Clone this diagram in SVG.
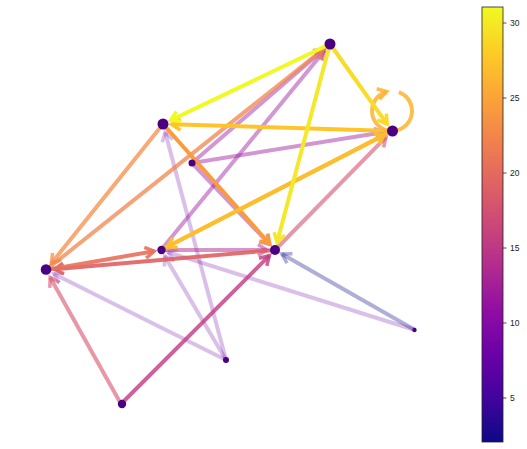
<svg xmlns="http://www.w3.org/2000/svg" width="527" height="449" viewBox="0 0 527 449">
<style>
.e{fill:none;stroke-width:4;stroke-linecap:butt}
.h{fill:none;stroke-width:3.5;stroke-linejoin:miter}
.n{fill:#4b0082}
.y1{stroke:#f0f921}
.y2{stroke:#f8dc25}
.y3{stroke:#f4e82a}
.lp{stroke:#fdb32f;stroke-opacity:0.85}
.bc{stroke:#fec52a}
.be{stroke:#fdbd2c;stroke-opacity:0.95}
.cf{stroke:#fa9b3c}
.cg{stroke:#f58c46;stroke-opacity:0.75}
.ga{stroke:#f2844b;stroke-opacity:0.75}
.ge{stroke:#e8705a;stroke-opacity:0.9}
.fg{stroke:#de6164;stroke-opacity:0.9}
.pk{stroke:#d5546e;stroke-opacity:0.6}
.hf{stroke:#c13b82;stroke-opacity:0.8}
.ef{stroke:#b12a90;stroke-opacity:0.5}
.pu{stroke:#9c179e;stroke-opacity:0.45}
.lv{stroke:#6a00a8;stroke-opacity:0.25}
.bl{stroke:#0d0887;stroke-opacity:0.33}
.tk{font-family:"Liberation Sans",Arial,sans-serif;font-size:8.5px;fill:#222}
</style>
<defs>
<linearGradient id="plasma" x1="0" y1="1" x2="0" y2="0">
<stop offset="0" stop-color="#0d0887"/>
<stop offset="0.1" stop-color="#41049d"/>
<stop offset="0.2" stop-color="#6a00a8"/>
<stop offset="0.3" stop-color="#8f0da4"/>
<stop offset="0.4" stop-color="#b12a90"/>
<stop offset="0.5" stop-color="#cc4778"/>
<stop offset="0.6" stop-color="#e16462"/>
<stop offset="0.7" stop-color="#f2844b"/>
<stop offset="0.8" stop-color="#fca636"/>
<stop offset="0.9" stop-color="#fcce25"/>
<stop offset="1" stop-color="#f0f921"/>
</linearGradient>
<marker id="my1" markerUnits="userSpaceOnUse" markerWidth="20" markerHeight="20" orient="auto" overflow="visible"><path class="h y1" d="M-9,-5.5L0,0L-9,5.5"/></marker>
<marker id="my2" markerUnits="userSpaceOnUse" markerWidth="20" markerHeight="20" orient="auto" overflow="visible"><path class="h y2" d="M-9,-5.5L0,0L-9,5.5"/></marker>
<marker id="my3" markerUnits="userSpaceOnUse" markerWidth="20" markerHeight="20" orient="auto" overflow="visible"><path class="h y3" d="M-9,-5.5L0,0L-9,5.5"/></marker>
<marker id="mlp" markerUnits="userSpaceOnUse" markerWidth="20" markerHeight="20" orient="auto" overflow="visible"><path class="h lp" d="M-9,-5.5L0,0L-9,5.5"/></marker>
<marker id="mbc" markerUnits="userSpaceOnUse" markerWidth="20" markerHeight="20" orient="auto" overflow="visible"><path class="h bc" d="M-9,-5.5L0,0L-9,5.5"/></marker>
<marker id="mbe" markerUnits="userSpaceOnUse" markerWidth="20" markerHeight="20" orient="auto" overflow="visible"><path class="h be" d="M-9,-5.5L0,0L-9,5.5"/></marker>
<marker id="mcf" markerUnits="userSpaceOnUse" markerWidth="20" markerHeight="20" orient="auto" overflow="visible"><path class="h cf" d="M-9,-5.5L0,0L-9,5.5"/></marker>
<marker id="mcg" markerUnits="userSpaceOnUse" markerWidth="20" markerHeight="20" orient="auto" overflow="visible"><path class="h cg" d="M-9,-5.5L0,0L-9,5.5"/></marker>
<marker id="mga" markerUnits="userSpaceOnUse" markerWidth="20" markerHeight="20" orient="auto" overflow="visible"><path class="h ga" d="M-9,-5.5L0,0L-9,5.5"/></marker>
<marker id="mge" markerUnits="userSpaceOnUse" markerWidth="20" markerHeight="20" orient="auto" overflow="visible"><path class="h ge" d="M-9,-5.5L0,0L-9,5.5"/></marker>
<marker id="mfg" markerUnits="userSpaceOnUse" markerWidth="20" markerHeight="20" orient="auto" overflow="visible"><path class="h fg" d="M-9,-5.5L0,0L-9,5.5"/></marker>
<marker id="mpk" markerUnits="userSpaceOnUse" markerWidth="20" markerHeight="20" orient="auto" overflow="visible"><path class="h pk" d="M-9,-5.5L0,0L-9,5.5"/></marker>
<marker id="mhf" markerUnits="userSpaceOnUse" markerWidth="20" markerHeight="20" orient="auto" overflow="visible"><path class="h hf" d="M-9,-5.5L0,0L-9,5.5"/></marker>
<marker id="mef" markerUnits="userSpaceOnUse" markerWidth="20" markerHeight="20" orient="auto" overflow="visible"><path class="h ef" d="M-9,-5.5L0,0L-9,5.5"/></marker>
<marker id="mpu" markerUnits="userSpaceOnUse" markerWidth="20" markerHeight="20" orient="auto" overflow="visible"><path class="h pu" d="M-9,-5.5L0,0L-9,5.5"/></marker>
<marker id="mlv" markerUnits="userSpaceOnUse" markerWidth="20" markerHeight="20" orient="auto" overflow="visible"><path class="h lv" d="M-9,-5.5L0,0L-9,5.5"/></marker>
<marker id="mbl" markerUnits="userSpaceOnUse" markerWidth="20" markerHeight="20" orient="auto" overflow="visible"><path class="h bl" d="M-9,-5.5L0,0L-9,5.5"/></marker>
</defs>
<g id="edges">
<path class="e lv" d="M226,360L165.2,132.2" marker-end="url(#mlv)"/>
<path class="e lv" d="M226,360L164.6,256" marker-end="url(#mlv)"/>
<path class="e lv" d="M226,360L53.6,273.8" marker-end="url(#mlv)"/>
<path class="e lv" d="M415,330L167.7,252.1" marker-end="url(#mlv)"/>
<path class="e bl" d="M415,330L281.9,254" marker-end="url(#mbl)"/>
<path class="e pu" d="M192,163L323.6,49.6" marker-end="url(#mpu)"/>
<path class="e pu" d="M161,250L324.6,50.6" marker-end="url(#mpu)"/>
<path class="e pu" d="M192,163L383.6,132.3" marker-end="url(#mpu)"/>
<path class="e pu" d="M192,163L269.5,244.2" marker-end="url(#mpu)"/>
<path class="e ef" d="M161,250L267,250" marker-end="url(#mef)"/>
<path class="e pk" d="M275,250L386,137.1" marker-end="url(#mpk)"/>
<path class="e pk" d="M121,404L50.2,277.4" marker-end="url(#mpk)"/>
<path class="e hf" d="M121,404L269.3,255.7" marker-end="url(#mhf)"/>
<path class="e cg" d="M163,124L51.3,263.4" marker-end="url(#mcg)"/>
<path class="e ga" d="M46,270L323.3,49.3" marker-end="url(#mga)"/>
<path class="e fg" d="M275,250L54.5,269.3" marker-end="url(#mfg)"/>
<path class="e ge" d="M46,270L154.1,251.2" marker-end="url(#mge)"/>
<path class="e cf" d="M163,124L269.7,244" marker-end="url(#mcf)"/>
<path class="e be" d="M392,131L167.2,246.8" marker-end="url(#mbe)"/>
<path class="e be" d="M161,250L384.4,134.9" marker-end="url(#mbe)"/>
<path class="e bc" d="M392,131L171.5,124.3" marker-end="url(#mbc)"/>
<path class="e lp" d="M392,131A20,20 0 0 1 372,111A20,20 0 0 1 386.8,91.7" marker-end="url(#mlp)"/>
<path class="e lp" d="M398.8,92.2A20,20 0 0 1 412,111A20,20 0 0 1 392,131"/>
<path class="e y3" d="M330,44L277.1,242.3" marker-end="url(#my3)"/>
<path class="e y2" d="M330,44L387.1,124.1" marker-end="url(#my2)"/>
<path class="e y1" d="M330,44L170.7,120.3" marker-end="url(#my1)"/>
</g>
<g id="nA"><circle class="n" cx="330" cy="44" r="5.5"/></g>
<g id="nB"><circle class="n" cx="392.5" cy="131" r="5.5"/></g>
<g id="nC"><circle class="n" cx="163" cy="124" r="5.5"/></g>
<g id="nD"><circle class="n" cx="192" cy="163" r="3.5"/></g>
<g id="nE"><circle class="n" cx="161.5" cy="250" r="4.2"/></g>
<g id="nF"><circle class="n" cx="275" cy="250" r="5"/></g>
<g id="nG"><circle class="n" cx="46" cy="269.5" r="5.3"/></g>
<g id="nH"><circle class="n" cx="122" cy="404" r="4.2"/></g>
<g id="nI"><circle class="n" cx="226" cy="360" r="3"/></g>
<g id="nJ"><circle class="n" cx="414.5" cy="330" r="2.2"/></g>
<g id="colorbar">
<rect x="482" y="7" width="21" height="435" fill="url(#plasma)" stroke="#222" stroke-width="0.8"/>
<g stroke="#222" stroke-width="0.8">
<line x1="503" y1="23" x2="506.5" y2="23"/>
<line x1="503" y1="98" x2="506.5" y2="98"/>
<line x1="503" y1="173" x2="506.5" y2="173"/>
<line x1="503" y1="248" x2="506.5" y2="248"/>
<line x1="503" y1="323" x2="506.5" y2="323"/>
<line x1="503" y1="398" x2="506.5" y2="398"/>
</g>
<text class="tk" x="510" y="26">30</text>
<text class="tk" x="510" y="101">25</text>
<text class="tk" x="510" y="176">20</text>
<text class="tk" x="510" y="251">15</text>
<text class="tk" x="510" y="326">10</text>
<text class="tk" x="510" y="401">5</text>
</g>
</svg>
